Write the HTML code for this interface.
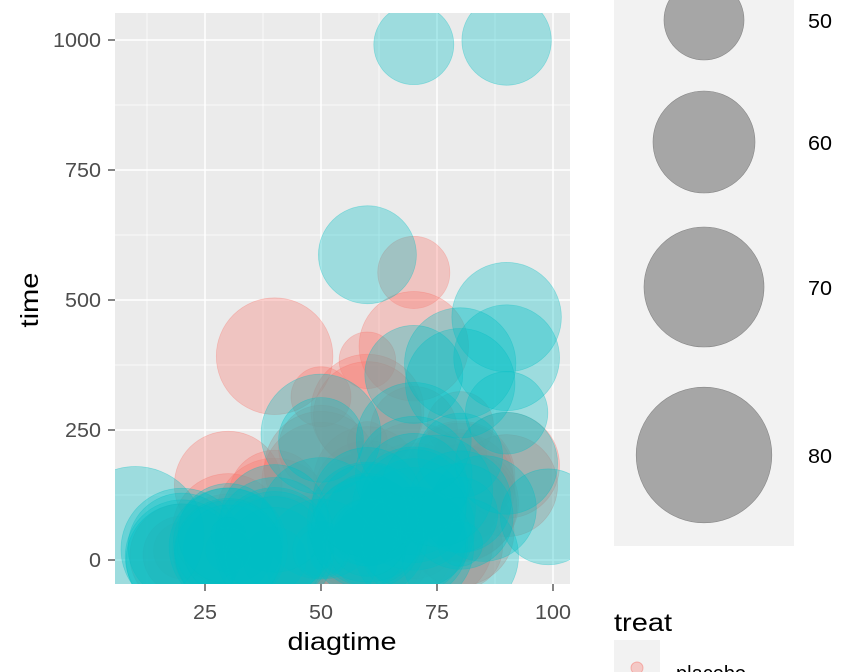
<!DOCTYPE html>
<html><head><meta charset="utf-8"><style>
body{margin:0;background:#fff}
svg{display:block;font-family:"Liberation Sans",Arial,sans-serif}
</style></head><body>
<svg id="chart" width="864" height="672" viewBox="0 0 864 672">
<defs><clipPath id="pc"><rect x="115" y="13" width="455" height="571"/></clipPath>
<clipPath id="lc"><rect x="614" y="-100" width="180" height="646"/></clipPath></defs>
<rect x="115" y="13" width="455" height="571" fill="#EBEBEB"/>
<g id="grid"></g>
<g id="marks" clip-path="url(#pc)"></g>
<g id="axes"></g>
<text x="342" y="650" font-size="25" text-anchor="middle" fill="#000" textLength="109" lengthAdjust="spacingAndGlyphs">diagtime</text>
<text transform="translate(38,300) rotate(-90)" font-size="25" text-anchor="middle" fill="#000" textLength="55" lengthAdjust="spacingAndGlyphs">time</text>
<rect x="614" y="-10" width="180" height="556" fill="#F2F2F2"/>
<g id="sizeLegend" clip-path="url(#lc)"></g>
<text x="614" y="631" font-size="25" fill="#000" textLength="58" lengthAdjust="spacingAndGlyphs">treat</text>
<rect x="614" y="640" width="46" height="40" fill="#F2F2F2"/>
<circle cx="637" cy="668" r="6" fill="rgba(248,118,109,0.33)" stroke="rgba(248,118,109,0.5)"/>
<text x="676" y="680" font-size="20" fill="#000">placebo</text>
</svg>
<script>
const karno=[60,70,60,60,70,20,40,80,50,70,60,40,30,80,70,60,60,40,80,60,40,60,60,30,80,30,50,60,80,40,20,80,30,75,70,60,30,60,80,60,70,50,50,40,40,20,70,40,80,80,50,80,30,80,50,80,50,70,60,40,80,80,70,90,90,80,80,70,60,
90,80,80,50,50,70,70,20,60,90,30,20,70,90,80,50,70,60,90,50,30,70,20,30,60,40,30,20,60,70,80,85,70,70,70,50,30,40,40,40,99,80,60,60,60,60,50,70,10,40,70,90,80,50,40,40,60,70,30,60,30,60,80,75,60,70,80,30];
const time=[72,411,228,126,118,10,82,110,314,100,42,8,144,25,11,30,384,4,54,13,123,97,153,59,117,16,151,22,56,21,18,139,20,31,52,287,18,51,122,27,54,7,63,392,10,8,92,35,117,132,12,162,3,95,177,162,216,553,278,12,260,200,156,182,143,105,103,250,100,
999,112,87,231,242,991,111,1,587,389,33,25,357,467,201,1,30,44,283,15,25,103,21,13,87,2,20,7,24,99,8,99,61,25,95,80,51,29,24,18,83,31,51,90,52,73,8,36,48,7,140,186,84,19,45,80,52,164,19,53,15,43,340,133,111,231,378,49];
const age=[69,64,38,63,65,49,69,68,43,70,81,63,63,52,48,61,42,35,63,56,55,67,63,65,46,53,69,68,43,55,42,64,65,65,55,66,60,67,53,62,67,72,48,68,67,61,60,62,38,50,63,64,43,34,66,62,52,47,63,68,45,41,66,62,60,66,38,53,37,
54,60,48,52,70,50,62,65,58,62,64,63,58,64,52,35,63,70,51,40,69,36,71,62,60,44,54,66,49,72,68,62,71,70,61,71,59,67,60,69,57,39,62,50,43,70,66,61,81,58,63,60,62,42,69,63,45,68,39,66,63,49,64,65,64,67,65,37];
const nPlacebo=69;
const xTicks=[25,50,75,100];
const yTicks=[0,250,500,750,1000];
const legendAges=[50,60,70,80];
const NS="http://www.w3.org/2000/svg";
const xs=v=>205+(v-25)*116/25;
const ys=v=>560-v*130/250;
const rs=a=>Math.sqrt(Math.max(4,100*(a-34)));
function mk(tag,attrs,parent){const e=document.createElementNS(NS,tag);for(const k in attrs)e.setAttribute(k,attrs[k]);parent.appendChild(e);return e;}
const grid=document.getElementById('grid'),axes=document.getElementById('axes'),marks=document.getElementById('marks'),sl=document.getElementById('sizeLegend');
for(let i=0;i<yTicks.length;i++){const y=ys(yTicks[i]);
 const g=mk('line',{x1:115,x2:570,y1:y,y2:y,stroke:'#fff','stroke-width':1.5},grid);
 
 
 if(i<yTicks.length-1){const ym=ys((yTicks[i]+yTicks[i+1])/2);const m=mk('line',{x1:115,x2:570,y1:ym,y2:ym,stroke:'#fff','stroke-width':0.7},grid);
 
 }
 const t=mk('line',{x1:108,x2:115,y1:y,y2:y,stroke:'#333','stroke-width':1.2},axes);
 
 
 const s=String(yTicks[i]);
 const l=mk('text',{x:101,y:y+7,'font-size':20,'text-anchor':'end',fill:'#4D4D4D',textLength:12*s.length,lengthAdjust:'spacingAndGlyphs'},axes);l.textContent=s;
 
 }
const xm=[12.5,37.5,62.5,87.5];
for(const v of xm){const m=mk('line',{x1:xs(v),x2:xs(v),y1:13,y2:584,stroke:'#fff','stroke-width':0.7},grid);
 
 }
for(const v of xTicks){const x=xs(v);
 const g=mk('line',{x1:x,x2:x,y1:13,y2:584,stroke:'#fff','stroke-width':1.5},grid);
 
 
 const t=mk('line',{x1:x,x2:x,y1:584,y2:591,stroke:'#333','stroke-width':1.2},axes);
 
 
 const s=String(v);
 const l=mk('text',{x:x,y:619,'font-size':20,'text-anchor':'middle',fill:'#4D4D4D',textLength:12*s.length,lengthAdjust:'spacingAndGlyphs'},axes);l.textContent=s;
 
 }
for(let i=0;i<time.length;i++){const pl=i<nPlacebo;
 const c=mk('circle',{cx:xs(karno[i]),cy:ys(time[i]),r:rs(age[i]),fill:pl?'rgba(248,118,109,0.33)':'rgba(0,191,196,0.33)',stroke:pl?'rgba(248,118,109,0.35)':'rgba(0,191,196,0.35)','stroke-width':0.7},marks);
 
 }
const ly=[20,142,287,455];
for(let i=0;i<legendAges.length;i++){
 const c=mk('circle',{cx:704,cy:ly[i],r:rs(legendAges[i]),fill:'#A6A6A6',stroke:'#888','stroke-width':0.6},sl);
 
 
 const t=mk('text',{x:808,y:ly[i]+8,'font-size':20,fill:'#000',textLength:24,lengthAdjust:'spacingAndGlyphs'},document.getElementById('chart'));t.textContent=legendAges[i];
 
 }
</script>
</body></html>
